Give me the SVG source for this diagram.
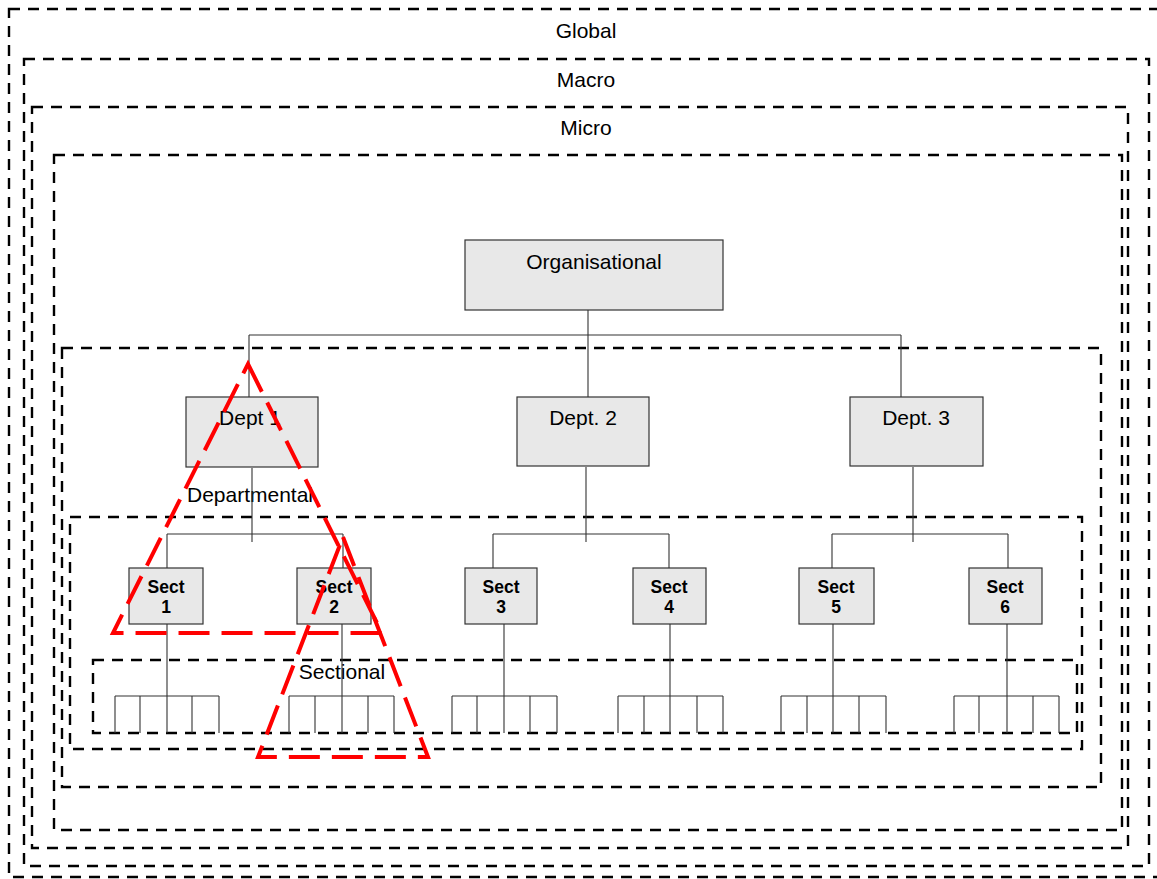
<svg xmlns="http://www.w3.org/2000/svg" width="1157" height="879" viewBox="0 0 1157 879">
  <style>
    .zone { fill: none; stroke: #000; stroke-width: 2.4; stroke-dasharray: 11 8; }
    .box { fill: #e8e8e8; stroke: #333; stroke-width: 1.2; }
    .link { fill: none; stroke: #333; stroke-width: 1.1; }
    .lbl { font-family: "Liberation Sans", Arial, sans-serif; font-size: 21px; fill: #000; text-anchor: middle; }
    .sect { font-family: "Liberation Sans", Arial, sans-serif; font-size: 17.5px; font-weight: bold; fill: #000; text-anchor: middle; }
    .scope { fill: none; stroke: #ff0000; stroke-width: 4; stroke-dasharray: 31 12; stroke-linejoin: miter; }
  </style>
  <rect width="1157" height="879" fill="#fff"/>

  <!-- nested scope zones -->
  <g id="zones">
    <rect id="zone-global" class="zone" x="9" y="9" width="1160" height="868"/>
    <rect id="zone-macro" class="zone" x="24" y="59" width="1125" height="807"/>
    <rect id="zone-micro" class="zone" x="32" y="107" width="1096" height="741"/>
    <rect id="zone-org" class="zone" x="54" y="155" width="1068" height="675"/>
    <rect id="zone-dept" class="zone" x="62" y="348" width="1039" height="439"/>
    <rect id="zone-sect" class="zone" x="70" y="517" width="1012" height="232"/>
    <rect id="zone-team" class="zone" x="93" y="660" width="984" height="73"/>
  </g>
  <g id="zone-labels">
    <text class="lbl" x="586" y="38">Global</text>
    <text class="lbl" x="586" y="87">Macro</text>
    <text class="lbl" x="586" y="135">Micro</text>
    <text class="lbl" x="250" y="502">Departmental</text>
    <text class="lbl" x="342" y="679">Sectional</text>
  </g>

  <!-- connectors -->
  <g id="connectors">
    <path class="link" d="M588 310V335M249 335H901M249 335V397M588 335V397M901 335V397"/>
    <path class="link" d="M252 468V542M167 534H343M167 534V568M343 534V568"/>
    <path class="link" d="M586 467V542M493 534H669M493 534V568M669 534V568"/>
    <path class="link" d="M913 467V542M832 534H1008M832 534V568M1008 534V568"/>
    <!-- section staff rows -->
    <path class="link" d="M167 624V733M115 696H219M115 696V733M140 696V733M192 696V733M219 696V733"/>
    <path class="link" d="M342 624V733M289 696H394M289 696V733M315 696V733M368 696V733M394 696V733"/>
    <path class="link" d="M504 624V733M452 696H557M452 696V733M477 696V733M530 696V733M557 696V733"/>
    <path class="link" d="M670 624V733M618 696H723M618 696V733M644 696V733M697 696V733M723 696V733"/>
    <path class="link" d="M833 624V733M781 696H886M781 696V733M807 696V733M859 696V733M886 696V733"/>
    <path class="link" d="M1007 624V733M954 696H1059M954 696V733M979 696V733M1033 696V733M1059 696V733"/>
  </g>

  <!-- organisation -->
  <g id="node-org">
    <rect class="box" x="465" y="240" width="258" height="70"/>
    <text class="lbl" x="594" y="269">Organisational</text>
  </g>

  <!-- departments -->
  <g id="node-dept1">
    <rect class="box" x="186" y="397" width="132" height="70"/>
    <text class="lbl" x="250" y="425">Dept 1</text>
  </g>
  <g id="node-dept2">
    <rect class="box" x="517" y="397" width="132" height="69"/>
    <text class="lbl" x="583" y="425">Dept. 2</text>
  </g>
  <g id="node-dept3">
    <rect class="box" x="850" y="397" width="133" height="69"/>
    <text class="lbl" x="916" y="425">Dept. 3</text>
  </g>

  <!-- sections -->
  <g id="node-sect1">
    <rect class="box" x="129" y="568" width="74" height="56"/>
    <text class="sect" x="166" y="593">Sect</text>
    <text class="sect" x="166" y="613">1</text>
  </g>
  <g id="node-sect2">
    <rect class="box" x="297" y="568" width="74" height="56"/>
    <text class="sect" x="334" y="593">Sect</text>
    <text class="sect" x="334" y="613">2</text>
  </g>
  <g id="node-sect3">
    <rect class="box" x="465" y="568" width="72" height="56"/>
    <text class="sect" x="501" y="593">Sect</text>
    <text class="sect" x="501" y="613">3</text>
  </g>
  <g id="node-sect4">
    <rect class="box" x="633" y="568" width="73" height="56"/>
    <text class="sect" x="669" y="593">Sect</text>
    <text class="sect" x="669" y="613">4</text>
  </g>
  <g id="node-sect5">
    <rect class="box" x="799" y="568" width="75" height="56"/>
    <text class="sect" x="836" y="593">Sect</text>
    <text class="sect" x="836" y="613">5</text>
  </g>
  <g id="node-sect6">
    <rect class="box" x="969" y="568" width="73" height="56"/>
    <text class="sect" x="1005" y="593">Sect</text>
    <text class="sect" x="1005" y="613">6</text>
  </g>

  <!-- highlighted spans of control -->
  <g id="scopes">
    <polygon class="scope" points="248,364 382,633 113,633"/>
    <polygon class="scope" points="343,537 428,757 258,757"/>
  </g>
</svg>
